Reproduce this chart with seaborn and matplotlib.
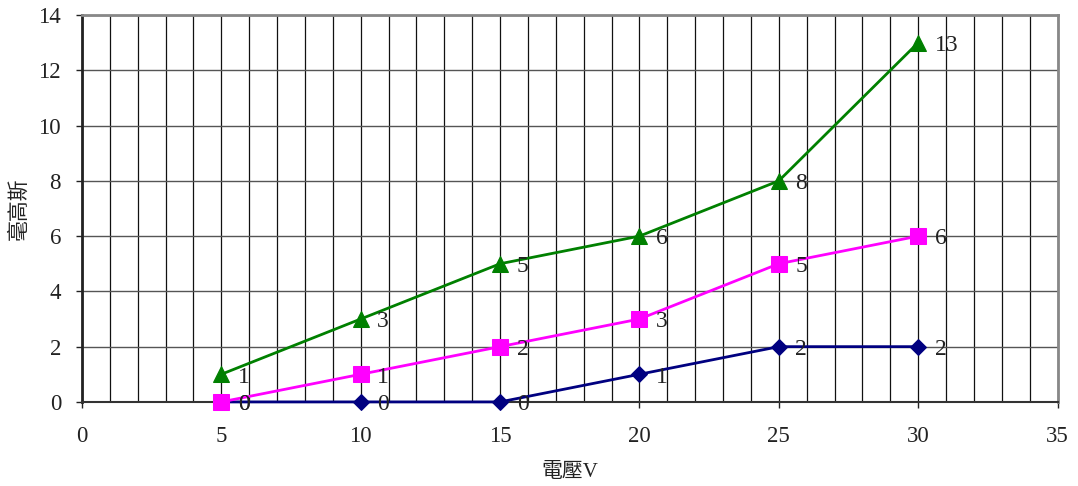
import matplotlib
matplotlib.use("Agg")
import matplotlib.pyplot as plt
from matplotlib.ticker import MultipleLocator
import seaborn as sns
import pandas as pd

voltage = [5, 10, 15, 20, 25, 30]
series_names = ["A", "B", "C"]
series_a = [0, 0, 0, 1, 2, 2]
series_b = [0, 1, 2, 3, 5, 6]
series_c = [1, 3, 5, 6, 8, 13]
colors = ["#000080", "#FF00FF", "#008000"]
markers = ["D", "s", "^"]
x_label = "電壓V"
y_label = "毫高斯"

rows = []
for name, vals in zip(series_names, [series_a, series_b, series_c]):
    for x, y in zip(voltage, vals):
        rows.append({"V": x, "mG": y, "series": name})
df = pd.DataFrame(rows)

sns.set_theme(style="white")
plt.rcParams["font.family"] = ["Liberation Serif", "Noto Sans CJK TC"]

fig = plt.figure(figsize=(10.78, 4.86), dpi=100)
ax = fig.add_axes([0.076, 0.173, 0.905, 0.796])

ax.set_xlim(0, 35)
ax.set_ylim(0, 14)
ax.xaxis.set_major_locator(MultipleLocator(5))
ax.xaxis.set_minor_locator(MultipleLocator(1))
ax.yaxis.set_major_locator(MultipleLocator(2))
ax.grid(which="major", axis="y", color="#555555", linewidth=1.0)
ax.grid(which="both", axis="x", color="#111111", linewidth=0.9)
ax.set_axisbelow(True)

for i, name in enumerate(series_names):
    sub = df[df["series"] == name]
    sns.lineplot(data=sub, x="V", y="mG", ax=ax, color=colors[i],
                 marker=markers[i], markersize=11 if markers[i] != "D" else 8,
                 markeredgecolor=colors[i], linewidth=2, zorder=3 + i,
                 legend=False, clip_on=False)
    for x, y in zip(sub["V"], sub["mG"]):
        ax.annotate(f"{y}", (x, y), xytext=(12, -2), textcoords="offset points",
                    ha="left", va="center", fontsize=17, color="#222222",
                    zorder=10, annotation_clip=False)

for side in ["top", "right"]:
    ax.spines[side].set_color("#888888")
    ax.spines[side].set_linewidth(2)
ax.spines["left"].set_color("#222222")
ax.spines["left"].set_linewidth(2)
ax.spines["bottom"].set_color("#333333")
ax.spines["bottom"].set_linewidth(1.5)

ax.tick_params(axis="both", which="major", labelsize=16.5, colors="#222222",
               length=4, width=1, direction="out", left=True, bottom=True,
               pad=11)
ax.tick_params(axis="x", which="major", pad=13)
ax.tick_params(axis="x", which="minor", length=0)
ax.set_xlabel(x_label, fontsize=15, color="#222222", labelpad=12)
ax.set_ylabel(y_label, fontsize=15, color="#222222", labelpad=6)

fig.savefig("out.png", dpi=100)
